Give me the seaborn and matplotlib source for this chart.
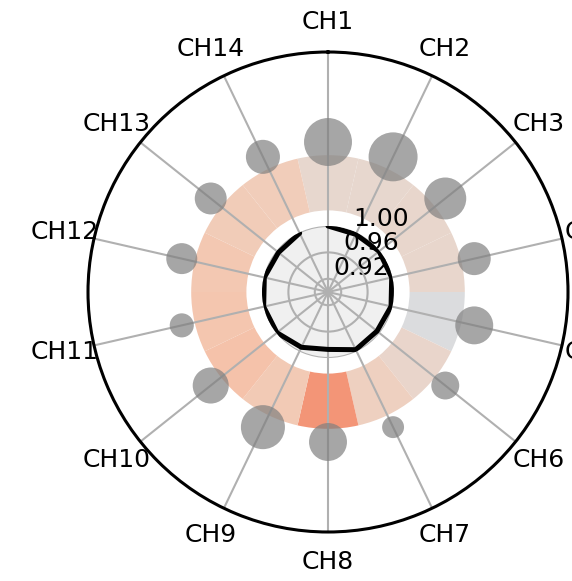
import numpy as np
import matplotlib
matplotlib.use("Agg")
import matplotlib.pyplot as plt
import seaborn as sns

# channel layout
channels = ["CH1", "CH2", "CH3", "CH4", "CH5", "CH6", "CH7",
            "CH8", "CH9", "CH10", "CH11", "CH12", "CH13", "CH14"]
# inner ring: similarity per channel
similarity = [1.000, 0.997, 0.999, 0.999, 0.998, 0.995, 0.997,
              0.987, 0.993, 0.999, 1.000, 0.999, 0.996, 0.999]
# middle ring: signed deviation (coolwarm, -1..1)
deviation = [0.08, 0.08, 0.09, 0.09, -0.01, 0.10, 0.15,
             0.52, 0.21, 0.26, 0.24, 0.22, 0.19, 0.18]
# outer dots: power
power = [23.0, 24.0, 17.6, 10.9, 14.4, 7.8, 4.8,
         14.4, 19.4, 13.0, 5.8, 9.6, 10.2, 11.6]

sns.set_style("white")
plt.rcParams["font.family"] = ["DejaVu Sans"]
plt.rcParams["text.color"] = "black"
plt.rcParams["xtick.color"] = "black"
plt.rcParams["ytick.color"] = "black"

n = len(channels)
theta = np.arange(n) * 2 * np.pi / n
grid_kw = dict(color="#b0b0b0", linewidth=1.5)

fig = plt.figure(figsize=(5.72, 5.81), dpi=100)
ax = fig.add_axes([0.15385, 0.08434, 0.83916, 0.82616], projection="polar")
ax.set_theta_zero_location("N")
ax.set_theta_direction(-1)
ax.set_ylim(0, 1)

cmap = sns.color_palette("coolwarm", as_cmap=True)
norm = matplotlib.colors.Normalize(-1, 1)
ax.bar(theta, 0.23, width=2 * np.pi / n, bottom=0.34,
       color=cmap(norm(np.array(deviation))), linewidth=0, zorder=1)

sns.scatterplot(x=theta, y=np.full(n, 0.625), s=np.array(power) * 51.8,
                color="gray", alpha=0.7, linewidth=0, legend=False,
                ax=ax, zorder=3)

ax.set_xticks(theta)
ax.set_xticklabels(channels, fontsize=18, color="black")
ax.tick_params(axis="x", pad=11)
ax.set_yticks([])
ax.set_axisbelow("line")
ax.xaxis.grid(True, **grid_kw)
ax.spines["polar"].set_linewidth(2.2)
ax.spines["polar"].set_color("black")
ax.set_xlabel("")
ax.set_ylabel("")

# inner similarity panel
ax_in = fig.add_axes([0.45804, 0.38382, 0.23077, 0.22719], projection="polar")
ax_in.set_theta_zero_location("N")
ax_in.set_theta_direction(-1)
ax_in.set_facecolor("#f0f0f0")
sns.lineplot(x=theta, y=similarity, color="black", linewidth=3.6,
             sort=False, ax=ax_in)
ax_in.set_ylim(0.9, 1.0)
ax_in.set_xticks(theta)
ax_in.set_xticklabels([])
ax_in.set_yticks([0.92, 0.96, 1.00])
ax_in.set_yticklabels(["0.92", "0.96", "1.00"], fontsize=18, color="black")
ax_in.grid(True, **grid_kw)
ax_in.spines["polar"].set_visible(False)
ax_in.set_xlabel("")
ax_in.set_ylabel("")

fig.savefig("out.png", dpi=100)
plt.close(fig)
